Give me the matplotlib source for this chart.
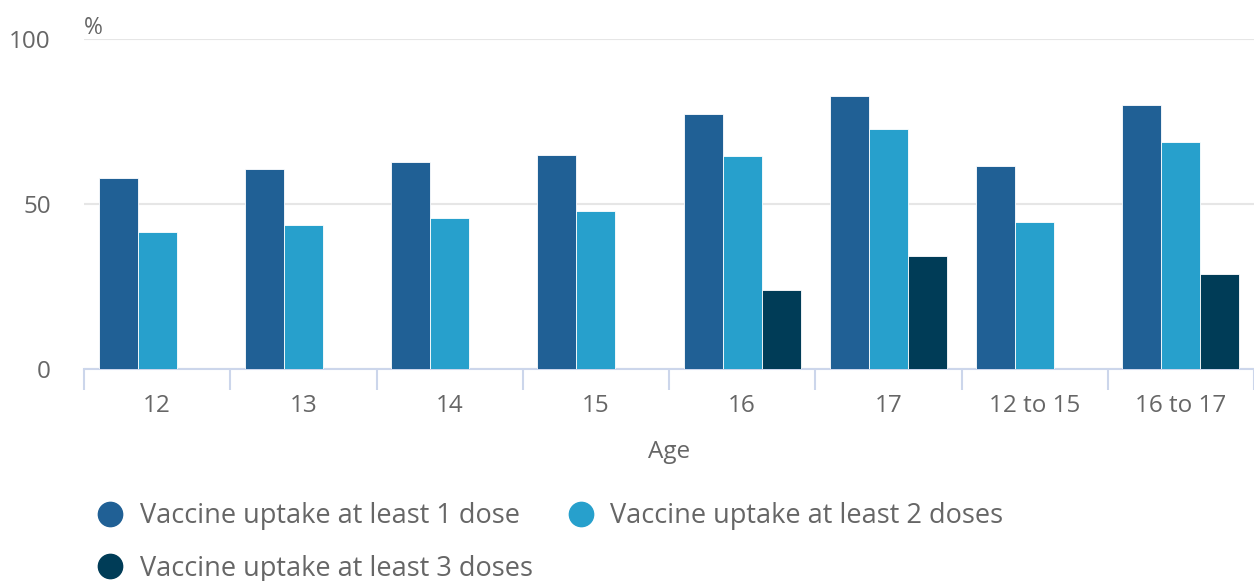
import numpy as np
import matplotlib
matplotlib.use("Agg")
import matplotlib.pyplot as plt
from matplotlib.lines import Line2D

plt.rcParams['font.family'] = ['Open Sans', 'DejaVu Sans']

# Data
ages = ['12', '13', '14', '15', '16', '17', '12 to 15', '16 to 17']
dose1 = [57.9, 60.7, 62.7, 64.8, 77.2, 82.7, 61.4, 79.9]
dose2 = [41.6, 43.6, 45.7, 47.7, 64.7, 72.9, 44.4, 68.9]
dose3 = [np.nan, np.nan, np.nan, np.nan, 23.9, 34.1, np.nan, 28.7]
labels = ['Vaccine uptake at least 1 dose', 'Vaccine uptake at least 2 doses',
          'Vaccine uptake at least 3 doses']
colors = ['#206095', '#27a0cc', '#003c57']

txt = '#666666'

fig = plt.figure(figsize=(12.54, 5.81), dpi=100)
ax = fig.add_axes([84 / 1254, (581 - 368.5) / 581, 1 - 84 / 1254, (368.5 - 39.3) / 581])

x = np.arange(len(ages))
w = 0.8 / 3
for i, vals in enumerate([dose1, dose2, dose3]):
    ax.bar(x + (i - 1) * w, vals, width=w, color=colors[i],
           edgecolor='white', linewidth=0.6, zorder=3)

ax.set_xlim(-0.5, len(ages) - 0.5)
ax.set_ylim(0, 100)
ax.set_yticks([0, 50, 100])
ax.yaxis.grid(True, color='#e6e6e6', linewidth=1.5, zorder=0)
for s in ['top', 'right', 'left']:
    ax.spines[s].set_visible(False)
ax.spines['bottom'].set_color('#ccd6eb')
ax.spines['bottom'].set_linewidth(1.5)
ax.tick_params(axis='y', length=0, labelsize=17.5, labelcolor=txt, pad=24)

ax.set_xticks(x)
ax.set_xticklabels(ages)
ax.tick_params(axis='x', length=0, labelsize=17.5, labelcolor=txt, pad=18)
# category boundary ticks
ax.set_xticks(np.arange(len(ages) + 1) - 0.5, minor=True)
ax.tick_params(axis='x', which='minor', length=15, width=1.5, color='#ccd6eb')

ax.set_xlabel('Age', fontsize=17.5, color=txt, labelpad=16)
ax.text(0.0, 0.997, '%', transform=ax.transAxes, fontsize=16.5, color=txt,
        ha='left', va='bottom')

handles = [Line2D([], [], marker='o', linestyle='none', markersize=17.5,
                  markerfacecolor=c, markeredgecolor=c) for c in colors]
# order so the legend fills row by row
order = [0, 2, 1]
fig.legend([handles[i] for i in order], [labels[i] for i in order],
           loc='upper left', bbox_to_anchor=(0.0638, 0.159),
           ncol=2, frameon=False, fontsize=19.5, labelcolor=txt,
           handletextpad=0.5, columnspacing=1.17, labelspacing=0.9,
           borderpad=0, handlelength=1.2)

fig.savefig('out.png', dpi=100)
